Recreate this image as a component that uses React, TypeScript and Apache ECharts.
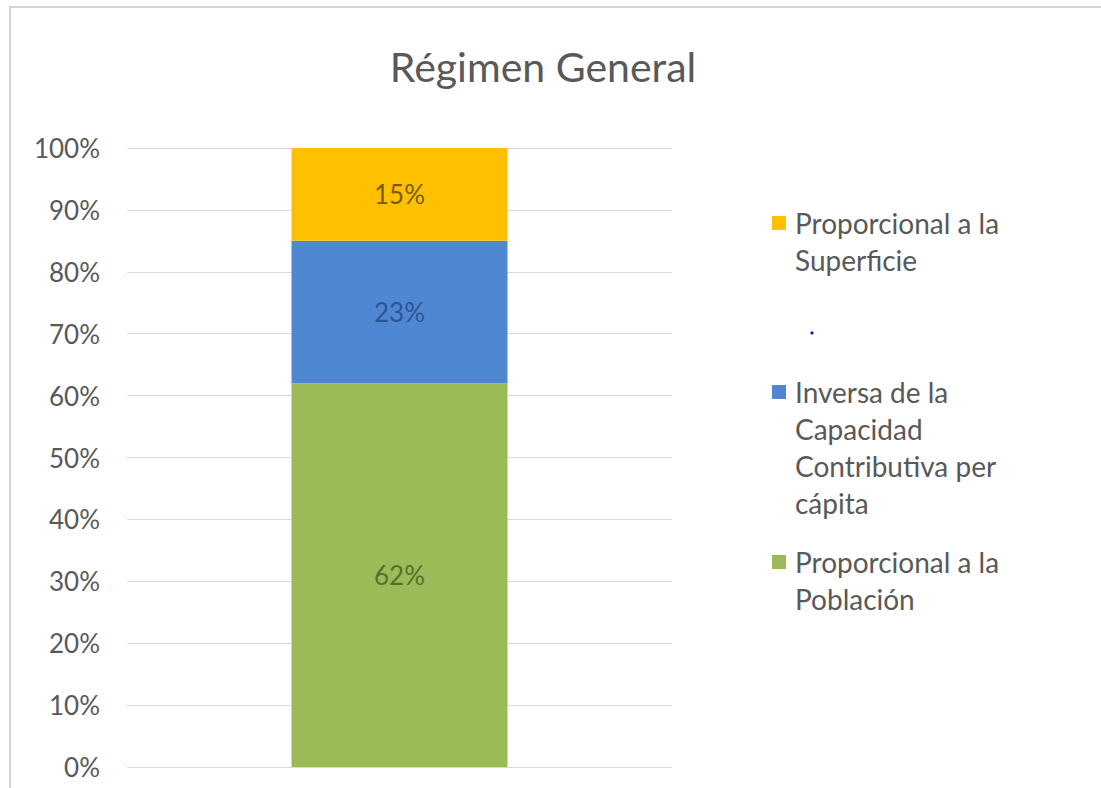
import React, { useEffect, useRef } from "react";
import * as echarts from "echarts";

const titleText = "Régimen General";
const categories = ["Régimen General"];
const seriesNames = [
  "Proporcional a la Población",
  "Inversa de la Capacidad Contributiva per cápita",
  "Proporcional a la Superficie",
];
const legendLabels = [
  "Proporcional a la\nPoblación",
  "Inversa de la\nCapacidad\nContributiva per\ncápita",
  "Proporcional a la\nSuperficie",
];
const poblacion = [0.62];
const inversa = [0.23];
const superficie = [0.15];
const seriesValues = [poblacion, inversa, superficie];
const seriesColors = ["#9bbb59", "#4f87d2", "#ffc000"];
const labelColors = ["#55702a", "#2d5590", "#7a5c00"];
const FONT = "Lato, 'Noto Sans', sans-serif";

// legend layout: first-line centre of each entry (same order as seriesNames)
const legendFirstLine = [562, 392, 223];
const LEGEND_LH = 37;

export default function App() {
  const ref = useRef<HTMLDivElement>(null);
  useEffect(() => {
    if (!ref.current) return;
    const chart = echarts.init(ref.current, undefined, { renderer: "svg" });
    const pct = (v: number) => Math.round(v * 100) + "%";

    const legendGraphics: any[] = [];
    seriesNames.forEach((name, i) => {
      const cy = legendFirstLine[i];
      legendGraphics.push({
        type: "group",
        name,
        children: [
          {
            type: "rect",
            shape: { x: 772, y: cy - 7, width: 14, height: 14 },
            style: { fill: seriesColors[i] },
          },
          {
            type: "text",
            x: 795,
            y: cy - LEGEND_LH / 2,
            style: {
              text: legendLabels[i],
              fontFamily: FONT,
              fontSize: 28,
              lineHeight: LEGEND_LH,
              fill: "#595959",
              verticalAlign: "top",
              align: "left",
            },
          },
        ],
      });
    });

    const option: any = {
      animation: false,
      backgroundColor: "#ffffff",
      title: {
        text: titleText,
        left: 538,
        top: 41,
        textAlign: "center",
        textStyle: { fontFamily: FONT, fontSize: 41, fontWeight: "normal", color: "#595959" },
      },
      grid: { left: 127, right: 429, top: 148, bottom: 21, containLabel: false },
      xAxis: {
        type: "category",
        data: categories,
        axisLine: { show: false },
        axisTick: { show: false },
        axisLabel: { show: false },
      },
      yAxis: {
        type: "value",
        min: 0,
        max: 1,
        interval: 0.1,
        axisLine: { show: false },
        axisTick: { show: false },
        splitLine: { lineStyle: { color: "#d9d9d9", width: 1 } },
        axisLabel: {
          margin: 27,
          formatter: (v: number) => pct(v),
          fontFamily: FONT,
          fontSize: 26,
          color: "#595959",
        },
      },
      graphic: [
        {
          type: "polyline",
          shape: { points: [[10, 788], [10, 7], [1101, 7]] },
          style: { stroke: "#d4d4d4", lineWidth: 2, fill: null },
          silent: true,
        },
        {
          type: "circle",
          shape: { cx: 812, cy: 333, r: 1.6 },
          style: { fill: "#1f1f8f" },
          silent: true,
        },
        ...legendGraphics,
      ],
      series: seriesNames.map((name, i) => ({
        name,
        type: "bar",
        stack: "total",
        barWidth: 216,
        data: seriesValues[i],
        itemStyle: { color: seriesColors[i] },
        label: {
          show: true,
          position: "inside",
          formatter: (p: any) => pct(p.value),
          fontFamily: FONT,
          fontSize: 26,
          color: labelColors[i],
        },
      })),
    };
    chart.setOption(option);
    return () => chart.dispose();
  }, []);
  return (
    <div
      ref={ref}
      style={{ position: "fixed", left: 0, top: 0, width: 1101, height: 788 }}
    />
  );
}
